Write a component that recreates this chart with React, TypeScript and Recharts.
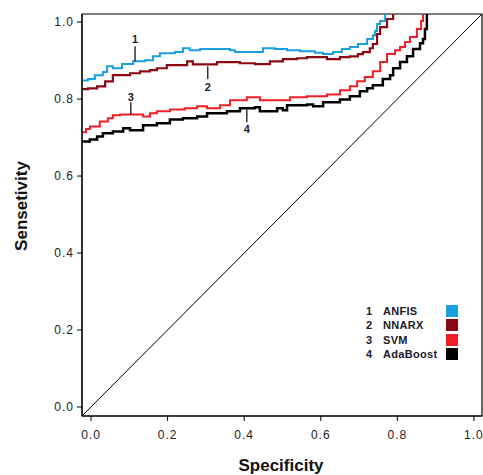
import {
  LineChart,
  Line,
  XAxis,
  YAxis,
  ReferenceArea,
  ReferenceLine,
  ReferenceDot,
  Legend,
} from 'recharts'

// axis range (plot box extends a little past 0..1 on both axes)
const axisLo = -0.0235
const axisHi = 1.021
const tickValues = [0, 0.2, 0.4, 0.6, 0.8, 1.0]

// [specificity, sensitivity]
const anfisPoints = [
  [-0.0235, 0.848], [-0.008, 0.852], [0.010, 0.862], [0.031, 0.870], [0.042, 0.885],
  [0.057, 0.880], [0.081, 0.891], [0.110, 0.898], [0.141, 0.901], [0.162, 0.911],
  [0.180, 0.919], [0.219, 0.922], [0.240, 0.932], [0.258, 0.927], [0.285, 0.930],
  [0.363, 0.927], [0.376, 0.922], [0.415, 0.922], [0.449, 0.932], [0.480, 0.930],
  [0.512, 0.927], [0.546, 0.924], [0.585, 0.920], [0.606, 0.917], [0.632, 0.922],
  [0.655, 0.930], [0.676, 0.935], [0.697, 0.943], [0.721, 0.956], [0.736, 0.966],
  [0.742, 0.977], [0.747, 0.995], [0.755, 1.003], [0.768, 1.025],
]
const nnarxPoints = [
  [-0.0235, 0.826], [-0.008, 0.828], [0.016, 0.833], [0.037, 0.846], [0.057, 0.862],
  [0.102, 0.867], [0.128, 0.872], [0.154, 0.875], [0.172, 0.880], [0.198, 0.888],
  [0.251, 0.898], [0.266, 0.890], [0.329, 0.896], [0.389, 0.893], [0.428, 0.891],
  [0.467, 0.898], [0.501, 0.904], [0.538, 0.906], [0.564, 0.909], [0.616, 0.904],
  [0.650, 0.909], [0.676, 0.911], [0.697, 0.917], [0.710, 0.922], [0.728, 0.932],
  [0.736, 0.943], [0.747, 0.969], [0.755, 0.987], [0.773, 1.008], [0.789, 1.025],
]
const svmPoints = [
  [-0.0235, 0.714], [-0.013, 0.722], [-0.003, 0.729], [0.023, 0.742], [0.044, 0.750],
  [0.057, 0.758], [0.076, 0.760], [0.115, 0.760], [0.136, 0.755], [0.154, 0.763],
  [0.172, 0.768], [0.206, 0.773], [0.245, 0.776], [0.277, 0.781], [0.303, 0.776],
  [0.337, 0.784], [0.363, 0.797], [0.407, 0.805], [0.441, 0.797], [0.475, 0.797],
  [0.520, 0.805], [0.564, 0.807], [0.616, 0.812], [0.650, 0.823], [0.676, 0.833],
  [0.695, 0.846], [0.715, 0.857], [0.736, 0.872], [0.755, 0.896], [0.773, 0.917],
  [0.794, 0.927], [0.807, 0.935], [0.820, 0.948], [0.833, 0.961], [0.851, 0.982],
  [0.862, 1.003], [0.867, 1.025],
]
const adaboostPoints = [
  [-0.0235, 0.690], [-0.003, 0.695], [0.016, 0.703], [0.031, 0.711], [0.057, 0.716],
  [0.084, 0.724], [0.102, 0.719], [0.136, 0.732], [0.172, 0.737], [0.206, 0.747],
  [0.240, 0.750], [0.277, 0.755], [0.303, 0.763], [0.355, 0.768], [0.389, 0.776],
  [0.428, 0.779], [0.441, 0.768], [0.486, 0.776], [0.501, 0.771], [0.512, 0.784],
  [0.564, 0.786], [0.580, 0.781], [0.606, 0.792], [0.650, 0.799], [0.676, 0.807],
  [0.702, 0.820], [0.721, 0.828], [0.736, 0.836], [0.762, 0.852], [0.781, 0.862],
  [0.789, 0.880], [0.807, 0.896], [0.825, 0.911], [0.841, 0.930], [0.859, 0.945],
  [0.867, 0.956], [0.872, 0.982], [0.877, 1.025],
]

const models = [
  { id: '1', name: 'ANFIS', color: '#1a9fe3', width: 2, points: anfisPoints },
  { id: '2', name: 'NNARX', color: '#8a0a14', width: 2.2, points: nnarxPoints },
  { id: '3', name: 'SVM', color: '#f01e26', width: 2, points: svmPoints },
  { id: '4', name: 'AdaBoost', color: '#000000', width: 2.5, points: adaboostPoints },
]

// curve labels: x, start/end of the pointer, label y
const annotations = [
  { id: '1', x: 0.115, y1: 0.898, y2: 0.937, yText: 0.956 },
  { id: '2', x: 0.305, y1: 0.885, y2: 0.852, yText: 0.831 },
  { id: '3', x: 0.104, y1: 0.760, y2: 0.792, yText: 0.805 },
  { id: '4', x: 0.407, y1: 0.773, y2: 0.740, yText: 0.721 },
]

const diagonal = [{ x: axisLo, y: axisLo }, { x: axisHi, y: axisHi }]

const font = '"Liberation Sans", Arial, sans-serif'
const tickStyle = { fill: '#222', fontSize: 12, fontFamily: font, letterSpacing: 1 }

function LegendBox() {
  return (
    <div style={{ fontFamily: font, fontSize: 11, fontWeight: 'bold', color: '#1a1a2a' }}>
      {models.map((m) => (
        <div key={m.id} style={{ display: 'flex', alignItems: 'center', height: 14.3 }}>
          <span style={{ width: 17, paddingLeft: 4 }}>{m.id}</span>
          <span style={{ width: 63, letterSpacing: 0.3 }}>{m.name}</span>
          <span style={{ width: 12, height: 12, background: m.color, display: 'inline-block' }} />
        </div>
      ))}
    </div>
  )
}

export default function App() {
  return (
    <div style={{ position: 'absolute', left: 0, top: 0, width: 483, height: 475, background: '#fff' }}>
      <LineChart width={483} height={475} margin={{ top: 14, right: 1, bottom: 0, left: 0 }}>
        <XAxis
          type="number"
          dataKey="x"
          domain={[axisLo, axisHi]}
          ticks={tickValues}
          allowDataOverflow
          height={59}
          tickSize={5}
          tickMargin={9}
          tick={tickStyle}
          tickFormatter={(v: number) => v.toFixed(1)}
          stroke="#000"
          interval={0}
        />
        <YAxis
          type="number"
          dataKey="y"
          domain={[axisLo, axisHi]}
          ticks={tickValues}
          allowDataOverflow
          width={82}
          tickSize={5}
          tickMargin={3}
          tick={tickStyle}
          tickFormatter={(v: number) => v.toFixed(1)}
          stroke="#000"
          interval={0}
        />
        <ReferenceArea x1={axisLo} x2={axisHi} y1={axisLo} y2={axisHi} fill="none" stroke="#000" strokeWidth={1.2} />
        <ReferenceLine segment={diagonal} stroke="#000" strokeWidth={1} />
        {models.map((m) => (
          <Line
            key={m.name}
            data={m.points.map(([x, y]) => ({ x, y }))}
            dataKey="y"
            type="stepAfter"
            stroke={m.color}
            strokeWidth={m.width}
            dot={false}
            isAnimationActive={false}
            name={m.name}
          />
        ))}
        {annotations.map((a) => (
          <ReferenceLine
            key={'l' + a.id}
            segment={[{ x: a.x, y: a.y1 }, { x: a.x, y: a.y2 }]}
            stroke="#000"
            strokeWidth={1.2}
          />
        ))}
        {annotations.map((a) => (
          <ReferenceDot
            key={'t' + a.id}
            x={a.x}
            y={a.yText}
            r={0}
            shape={(p: any) => (
              <text
                x={p.cx}
                y={p.cy}
                textAnchor="middle"
                dominantBaseline="central"
                fontFamily={font}
                fontSize={11}
                fontWeight="bold"
                fill="#1a1a2a"
              >
                {a.id}
              </text>
            )}
          />
        ))}
        <Legend
          layout="horizontal"
          verticalAlign="middle"
          align="center"
          content={() => <LegendBox />}
          wrapperStyle={{ left: 362, top: 304, width: 110 }}
        />
        <text x={281} y={471} textAnchor="middle" fontFamily={font} fontSize={17} fontWeight="bold" fill="#111">
          Specificity
        </text>
        <text
          x={27}
          y={206}
          transform="rotate(-90 27 206)"
          textAnchor="middle"
          fontFamily={font}
          fontSize={17}
          fontWeight="bold"
          fill="#111"
        >
          Sensetivity
        </text>
      </LineChart>
    </div>
  )
}
